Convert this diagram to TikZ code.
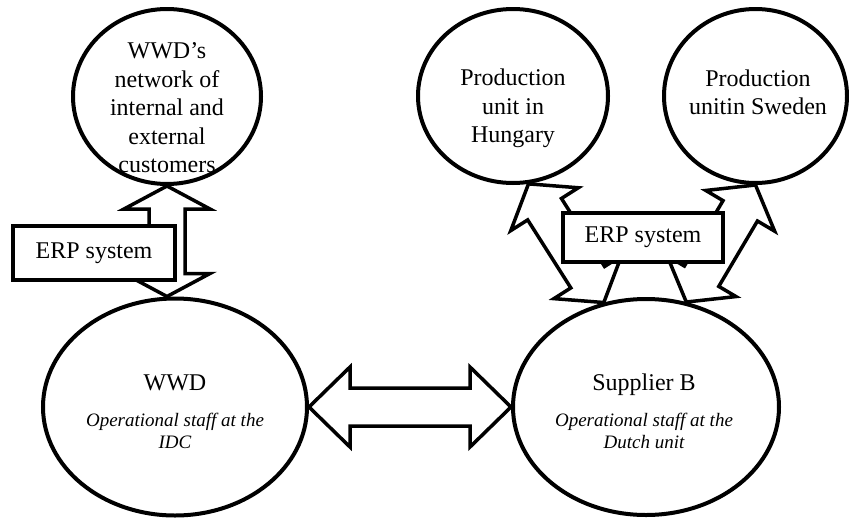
\documentclass[tikz,border=0pt]{standalone}
\usepackage{fontspec}
\setmainfont{Liberation Serif}
\usetikzlibrary{calc,shapes.geometric}

\tikzset{
  blob/.style={draw, ellipse, line width=4pt, inner sep=0pt},
  txt/.style={align=center, inner sep=0pt, font=\fontsize{24}{28.5}\selectfont},
  subtxt/.style={inner sep=0pt, font=\fontsize{19}{22}\selectfont\itshape},
  erpbox/.style={draw, fill=white, line width=4pt, inner sep=0pt,
    font=\fontsize{24}{28.5}\selectfont},
  blockarrow/.style={draw, fill=white, line width=3.5pt, line join=miter}
}

% Double-headed block arrow from #1 to #2:
% #3 head length, #4 half width of the heads, #5 half width of the shaft
\newcommand\blockarrow[5]{%
  \coordinate (ba1) at ($(#1)!#3!(#2)$);
  \coordinate (ba2) at ($(#2)!#3!(#1)$);
  \path[blockarrow] (#1)
    -- ($(ba1)!#4!90:(#2)$) -- ($(ba1)!#5!90:(#2)$)
    -- ($(ba2)!#5!-90:(#1)$) -- ($(ba2)!#4!-90:(#1)$)
    -- (#2)
    -- ($(ba2)!#4!90:(#1)$) -- ($(ba2)!#5!90:(#1)$)
    -- ($(ba1)!#5!-90:(#2)$) -- ($(ba1)!#4!-90:(#2)$)
    -- cycle;
}

\begin{document}
\begin{tikzpicture}[x=1pt,y=-1pt]
\useasboundingbox (0,0) rectangle (849,517);

% units
\node[blob, minimum width=188, minimum height=175] (net) at (167,96.5) {};
\node[blob, minimum width=190, minimum height=174] (hun) at (513,96) {};
\node[blob, minimum width=183, minimum height=174] (swe) at (755.5,96) {};
\node[blob, minimum width=264, minimum height=217] (wwd) at (175,407) {};
\node[blob, minimum width=266, minimum height=216] (sup) at (646,407) {};

% information flows
\coordinate (netfoot) at (net.south |- wwd.north);
\blockarrow{net.south}{netfoot}{23pt}{43pt}{18pt}
\blockarrow{wwd.east}{sup.west}{41pt}{40pt}{19pt}
\blockarrow{sup.112}{hun.-80}{30pt}{40pt}{20pt}
\blockarrow{sup.69}{swe.south}{30pt}{40pt}{20pt}

% unit texts
\node[txt] (nett) at (167,108) {WWD’s\\network of\\internal and\\external\\customers};
\node[txt] (hunt) at (513,108.5) {Production\\unit in\\Hungary};
\node[txt] (swet) at (758,92.5) {Production\\unitin Sweden};
\node[txt, anchor=base] (wwdt) at (175,390) {WWD};
\node[subtxt, anchor=base] (wwds1) at (175,426) {Operational staff at the};
\node[subtxt, anchor=base] (wwds2) at (175,448) {IDC};
\node[txt, anchor=base] (supt) at (644,390) {Supplier B};
\node[subtxt, anchor=base] (sups1) at (644,426) {Operational staff at the};
\node[subtxt, anchor=base] (sups2) at (644,448) {Dutch unit};

% ERP systems
\node[erpbox, minimum width=162, minimum height=54] (erpl) at (94,253) {ERP system};
\node[erpbox, minimum width=160, minimum height=49] (erpr) at (643,237.5) {ERP system};
\end{tikzpicture}
\end{document}
